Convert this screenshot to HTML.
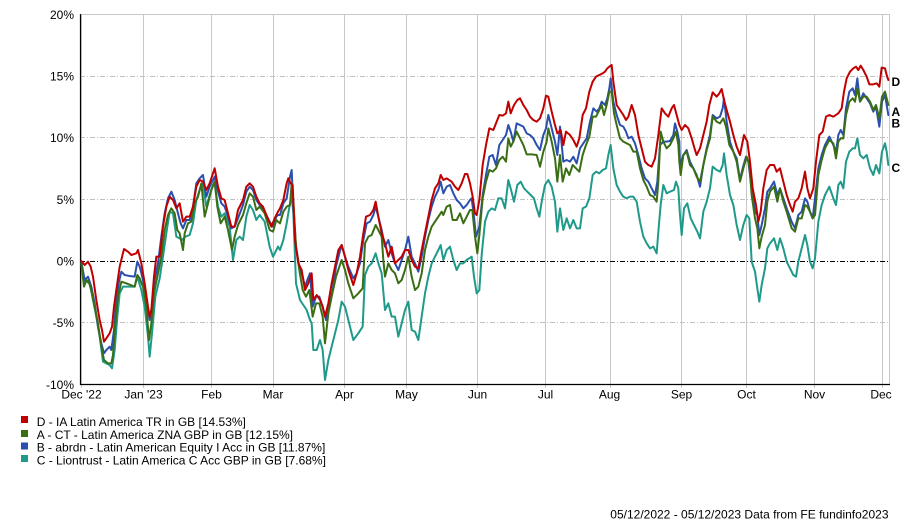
<!DOCTYPE html>
<html><head><meta charset="utf-8"><style>
html,body{margin:0;padding:0;background:#fff;}
svg{display:block;font-family:"Liberation Sans",Arial,sans-serif;}
</style></head><body>
<svg width="900" height="521" viewBox="0 0 900 521" xmlns="http://www.w3.org/2000/svg">
<rect x="0" y="0" width="900" height="521" fill="#fff"/>
<!-- vertical grid -->
<g stroke="#c8c8c8" stroke-width="1">
<line x1="81.5" y1="14" x2="81.5" y2="388"/>
<line x1="143.5" y1="14" x2="143.5" y2="388"/>
<line x1="211.5" y1="14" x2="211.5" y2="388"/>
<line x1="273.5" y1="14" x2="273.5" y2="388"/>
<line x1="344.5" y1="14" x2="344.5" y2="388"/>
<line x1="406.5" y1="14" x2="406.5" y2="388"/>
<line x1="477.5" y1="14" x2="477.5" y2="388"/>
<line x1="545.5" y1="14" x2="545.5" y2="388"/>
<line x1="610.5" y1="14" x2="610.5" y2="388"/>
<line x1="681.5" y1="14" x2="681.5" y2="388"/>
<line x1="746.5" y1="14" x2="746.5" y2="388"/>
<line x1="814.5" y1="14" x2="814.5" y2="388"/>
<line x1="882.5" y1="14" x2="882.5" y2="388"/>
<line x1="889.5" y1="14" x2="889.5" y2="384"/>
<line x1="80" y1="14.5" x2="890" y2="14.5"/>
</g>
<g stroke="#c0c0c0" stroke-width="1" stroke-dasharray="5,2,1,2">
<line x1="80" y1="76.5" x2="889" y2="76.5"/>
<line x1="80" y1="137.5" x2="889" y2="137.5"/>
<line x1="80" y1="199.5" x2="889" y2="199.5"/>
<line x1="80" y1="322.5" x2="889" y2="322.5"/>
</g>
<line x1="80" y1="261.5" x2="889" y2="261.5" stroke="#000" stroke-width="1" stroke-dasharray="5,2,1,2"/>
<!-- axes -->
<line x1="80.5" y1="14" x2="80.5" y2="385" stroke="#000" stroke-width="1.2"/>
<line x1="80" y1="384.5" x2="890" y2="384.5" stroke="#000" stroke-width="1.2"/>

<!-- y labels -->
<g font-size="12" text-anchor="end" fill="#000">
<text x="74" y="19">20%</text>
<text x="74" y="80.7">15%</text>
<text x="74" y="142">10%</text>
<text x="74" y="204">5%</text>
<text x="74" y="265.7">0%</text>
<text x="74" y="327">-5%</text>
<text x="74" y="389">-10%</text>
</g>
<!-- x labels -->
<g font-size="12" text-anchor="middle" fill="#000">
<text x="81.5" y="398.5">Dec '22</text>
<text x="143.5" y="398.5">Jan '23</text>
<text x="211.5" y="398.5">Feb</text>
<text x="273" y="398.5">Mar</text>
<text x="344.5" y="398.5">Apr</text>
<text x="406.5" y="398.5">May</text>
<text x="477.5" y="398.5">Jun</text>
<text x="545.5" y="398.5">Jul</text>
<text x="609.5" y="398.5">Aug</text>
<text x="681.5" y="398.5">Sep</text>
<text x="746.5" y="398.5">Oct</text>
<text x="814.5" y="398.5">Nov</text>
<text x="881" y="398.5">Dec</text>
</g>

<g fill="none" stroke-width="2" stroke-linejoin="round" stroke-linecap="round">
<!-- TEAL C -->
<g stroke="#1f9a8a">
<polyline vector-effect="non-scaling-stroke" transform="translate(78,150) scale(0.333333)" points="10,340 18,400 25,395 35,400 45,450 55,500 65,560 75,635 85,640 95,645 102,655 110,600 118,500 125,430 135,410 150,410 170,410 178,380 190,420 200,470 210,560 215,620 222,550 232,440 245,385 255,320 265,250 275,185 285,190 295,260 305,265 312,270 322,260 335,255 345,220 355,150 365,120 375,100 385,170 395,135 405,105 410,100 420,170 430,200 440,190 455,230 465,330 475,270 485,260 495,270 505,200 515,165 525,180 535,210 545,195 560,215 575,290 585,320 595,300 600,290"/>
<polyline vector-effect="non-scaling-stroke" transform="translate(270,150) scale(0.333333)" points="24,290 30,300 40,270 50,220 60,160 65,140 70,190 78,400 90,450 100,465 110,480 120,510 125,520 130,600 140,600 150,570 158,600 165,690 175,630 185,590 195,550 205,510 215,455 225,470 235,510 250,570 265,550 278,530 285,375 295,350 305,340 317,310 325,340 335,370 345,480 355,460 365,500 375,500 385,560 395,520 405,480 415,455 425,540 435,545 445,570 455,500 465,430 475,380 485,340 495,320 505,300 512,285 520,330 530,300 540,290 550,330 560,360 570,340 580,340 590,330 605,320 612,380 620,430 628,420"/>
<polyline vector-effect="non-scaling-stroke" transform="translate(470,55) scale(0.333333)" points="28,705 35,600 45,500 55,470 65,460 75,465 85,430 95,430 105,460 115,375 122,400 132,440 142,390 152,380 162,400 172,410 182,420 192,430 200,460 208,485 215,440 225,390 235,375 245,395 255,440 262,530 270,460 280,525 290,490 300,520 310,495 320,520 330,520 338,460 348,455 358,430 368,360 378,350 388,355 398,345 408,340 415,300 422,270 430,340 440,390 450,410 460,425 470,430 480,425 490,425 500,440 510,500 520,545 530,565 540,580 550,575 560,595 565,530 572,450 580,390 590,415 600,410 612,405 618,380 625,400 628,450"/>
<polyline vector-effect="non-scaling-stroke" transform="translate(670,55) scale(0.333333)" points="28,450 30,480 35,540 42,460 52,445 62,490 72,510 82,530 90,550 100,470 110,440 120,400 128,335 140,345 150,350 158,330 162,295 170,360 180,420 190,450 200,510 210,555 220,510 230,480 238,490 245,620 255,650 262,700 268,740 275,690 285,640 292,580 300,565 312,550 322,585 330,550 340,580 350,620 360,640 370,660 378,665 385,620 395,580 405,540 412,570 420,620 428,640 435,610 445,500 455,450 465,420 478,395 490,430 498,450 505,390 512,380 520,400 528,320 538,290 548,280 555,280 562,250 570,300 580,310 590,300 600,340 610,360 618,330 628,355 636,290 645,265 650,290 655,330"/>
</g>
<!-- BLUE B -->
<g stroke="#2a4faf">
<polyline vector-effect="non-scaling-stroke" transform="translate(78,150) scale(0.333333)" points="10,335 20,390 30,380 40,410 50,460 60,530 70,580 78,610 85,600 95,590 100,600 108,540 115,450 122,400 130,365 140,375 155,378 170,380 178,335 185,350 195,390 205,450 215,510 222,470 230,390 240,340 250,260 260,190 270,145 280,125 290,150 300,190 308,220 315,235 325,210 335,210 345,170 355,100 365,85 375,75 385,140 395,110 405,90 410,80 420,125 430,160 440,170 450,200 460,235 470,230 480,205 495,165 505,125 515,110 525,120 535,150 545,165 560,185 575,215 585,230 595,200 600,195"/>
<polyline vector-effect="non-scaling-stroke" transform="translate(270,150) scale(0.333333)" points="24,195 30,195 40,160 50,145 60,80 65,60 70,170 78,290 88,350 98,380 105,410 112,390 120,370 128,470 138,440 148,440 158,470 168,510 178,470 188,420 198,350 208,310 215,285 225,320 235,350 250,385 260,370 270,340 280,270 290,220 300,215 310,195 317,170 325,200 335,240 345,290 355,270 365,310 375,340 385,360 395,330 405,300 415,260 425,320 435,340 445,365 455,320 465,260 475,210 485,170 495,140 505,120 512,95 520,130 530,110 540,105 550,130 560,150 570,160 580,175 590,165 600,150 605,145 612,200 618,260 628,230"/>
<polyline vector-effect="non-scaling-stroke" transform="translate(470,55) scale(0.333333)" points="28,515 38,420 48,360 58,305 68,300 78,330 88,270 98,255 108,240 115,210 122,230 130,260 140,205 150,210 160,215 170,235 180,240 190,250 200,270 210,285 220,240 228,220 235,180 245,220 255,260 262,300 270,215 280,320 290,315 300,320 310,305 320,325 330,280 340,265 350,250 360,200 370,160 380,170 388,160 395,140 405,150 412,130 418,100 422,70 430,140 440,180 450,210 460,215 468,230 475,250 485,245 495,265 505,300 515,340 525,370 535,380 545,400 555,420 562,380 570,270 580,260 590,260 600,258 610,240 615,205 622,230 628,260"/>
<polyline vector-effect="non-scaling-stroke" transform="translate(670,55) scale(0.333333)" points="28,260 30,330 40,300 50,285 60,320 70,340 80,360 90,395 100,330 110,280 120,240 128,180 140,190 150,185 158,160 162,130 170,200 180,260 190,290 200,310 210,375 218,340 228,305 235,320 245,400 255,470 262,480 268,540 275,510 285,460 292,410 300,400 312,380 322,420 330,400 340,430 350,460 365,500 375,520 385,480 395,470 405,430 412,440 420,470 428,490 435,430 445,340 455,300 465,270 478,245 490,270 498,290 505,240 512,225 520,240 528,160 538,110 548,100 555,120 562,70 570,140 580,115 590,130 600,145 610,170 618,155 628,215 636,140 645,120 650,150 655,180"/>
</g>
<!-- GREEN A -->
<g stroke="#3a6e14">
<polyline vector-effect="non-scaling-stroke" transform="translate(78,150) scale(0.333333)" points="10,340 18,410 25,390 32,395 40,420 50,470 60,520 70,590 78,630 90,640 100,640 105,615 112,520 120,440 130,395 145,400 170,410 178,375 185,385 195,410 205,470 213,570 220,520 228,430 238,380 250,320 260,240 270,195 280,175 290,190 298,240 305,250 315,300 320,250 330,220 340,215 350,160 360,140 370,100 380,200 390,160 400,120 410,95 418,170 428,220 440,200 450,240 462,300 470,260 480,225 495,195 505,160 515,130 525,140 535,180 545,170 560,190 575,240 585,245 595,210 600,215"/>
<polyline vector-effect="non-scaling-stroke" transform="translate(270,150) scale(0.333333)" points="24,215 30,220 40,185 50,170 60,165 65,100 70,150 78,290 88,360 98,420 108,440 118,420 128,500 138,460 148,460 158,500 165,580 175,490 185,440 198,380 208,350 215,330 225,360 235,400 250,445 265,430 278,415 285,280 295,260 305,255 317,225 325,240 335,260 340,330 345,380 355,340 365,360 375,370 385,400 395,390 405,360 415,320 425,380 435,420 445,410 455,370 465,300 475,260 485,230 495,215 505,200 515,185 520,195 530,170 540,165 548,210 560,210 570,190 580,220 590,200 600,180 607,180 615,260 622,310 628,255"/>
<polyline vector-effect="non-scaling-stroke" transform="translate(470,55) scale(0.333333)" points="28,540 38,430 48,380 58,345 68,350 78,340 88,315 98,305 108,320 115,250 122,275 130,260 140,230 150,250 160,270 170,298 185,298 200,300 210,335 220,290 230,260 235,220 245,260 255,310 262,380 270,300 278,380 288,340 298,360 308,330 318,340 328,350 338,300 348,270 358,245 368,185 378,185 388,165 395,150 402,180 410,150 418,110 425,110 432,175 440,210 450,250 460,260 470,265 480,270 490,290 500,290 510,340 520,375 530,395 540,420 550,425 560,440 565,380 572,230 580,260 590,280 600,270 610,250 618,230 625,270 628,320"/>
<polyline vector-effect="non-scaling-stroke" transform="translate(670,55) scale(0.333333)" points="28,320 32,360 40,300 50,290 60,330 70,340 80,365 90,380 100,330 110,285 120,250 128,185 140,200 150,205 160,190 168,215 178,270 190,290 200,320 210,380 220,340 230,305 238,330 245,420 255,490 262,520 268,580 275,545 285,510 292,440 300,410 312,395 322,440 330,400 340,440 350,470 365,520 375,530 385,490 395,490 405,450 412,455 420,470 428,490 435,480 445,360 455,315 465,280 478,255 490,265 498,310 505,260 512,250 520,250 528,180 538,140 548,130 555,140 562,100 570,140 580,125 590,125 600,140 610,165 618,150 628,190 636,125 645,110 650,130 655,150"/>
</g>
<!-- RED D -->
<g stroke="#c00000">
<polyline vector-effect="non-scaling-stroke" transform="translate(78,150) scale(0.333333)" points="10,333 20,345 30,335 38,350 45,380 55,450 65,510 72,540 78,575 85,565 95,550 102,530 108,470 115,420 125,350 138,297 150,305 160,315 175,310 180,300 190,340 200,400 210,470 215,500 220,480 228,380 235,320 245,320 255,230 265,170 275,140 285,150 295,175 305,160 315,215 325,200 335,200 345,170 355,110 365,90 375,95 385,120 395,100 405,70 410,55 420,110 430,145 440,150 450,190 460,230 470,230 480,180 495,150 505,110 515,100 525,110 535,140 545,160 555,170 565,195 580,230 590,205 600,185"/>
<polyline vector-effect="non-scaling-stroke" transform="translate(270,150) scale(0.333333)" points="24,185 30,175 40,150 50,100 55,85 62,100 68,105 75,270 85,340 95,360 105,420 115,400 125,370 130,450 140,435 150,450 158,470 165,500 175,460 185,400 195,350 205,300 215,285 225,320 235,360 250,405 260,370 270,320 280,250 288,200 300,195 310,180 317,155 325,200 335,250 345,280 355,320 365,290 375,340 385,330 395,320 405,300 415,300 425,330 435,350 445,355 455,300 465,250 475,200 485,150 495,115 505,100 512,75 520,90 530,85 545,95 555,110 565,120 575,100 585,72 592,72 600,100 608,140 615,190 620,195 628,150"/>
<polyline vector-effect="non-scaling-stroke" transform="translate(470,55) scale(0.333333)" points="28,435 38,330 48,270 58,220 70,225 80,200 88,180 98,182 108,175 115,140 122,175 132,150 142,135 150,130 160,150 170,165 180,185 190,195 200,200 210,190 220,160 228,122 235,125 245,170 255,210 262,235 272,225 280,270 288,230 300,240 310,255 320,275 328,250 338,180 348,160 358,110 368,80 378,65 388,60 398,55 405,50 412,40 418,35 425,30 430,80 440,150 450,165 460,180 468,195 475,185 485,150 495,180 505,240 515,280 525,320 535,330 545,335 555,310 565,240 575,160 585,175 595,185 605,160 612,150 620,180 628,210"/>
<polyline vector-effect="non-scaling-stroke" transform="translate(670,55) scale(0.333333)" points="28,210 35,225 45,210 55,220 65,250 75,285 80,300 90,280 100,240 110,200 118,150 128,112 140,125 148,115 155,102 162,135 170,165 180,200 190,240 200,275 210,300 215,275 222,240 232,260 240,320 248,400 258,450 265,500 272,470 280,400 290,345 300,330 312,330 320,350 330,340 340,380 350,420 360,450 368,470 375,440 385,430 395,400 405,350 412,400 420,430 430,400 438,320 448,240 458,230 468,185 478,180 490,185 505,175 515,160 522,110 530,70 540,50 550,40 558,35 565,45 572,32 580,45 590,65 598,88 610,88 620,85 628,95 635,38 645,40 650,60 655,75"/>
</g>
</g>

<!-- end labels -->
<g font-size="12" font-weight="bold" fill="#000">
<text x="891.5" y="86">D</text>
<text x="891.5" y="116">A</text>
<text x="891.5" y="127.3">B</text>
<text x="891.5" y="172">C</text>
</g>

<!-- legend -->
<rect x="21" y="416" width="7" height="7" fill="#c00000"/>
<rect x="21" y="430" width="7" height="7" fill="#3a6e14"/>
<rect x="21" y="442.5" width="7" height="7" fill="#2a4faf"/>
<rect x="21" y="455" width="7" height="7" fill="#1f9a8a"/>
<g font-size="12" fill="#000">
<text x="36.7" y="426">D - IA Latin America TR in GB [14.53%]</text>
<text x="36.7" y="439">A - CT - Latin America ZNA GBP in GB [12.15%]</text>
<text x="36.7" y="451.7">B - abrdn - Latin American Equity I Acc in GB [11.87%]</text>
<text x="36.7" y="464.4">C - Liontrust - Latin America C Acc GBP in GB [7.68%]</text>
</g>
<text x="888.5" y="518.5" font-size="12" text-anchor="end" fill="#000">05/12/2022 - 05/12/2023 Data from FE fundinfo2023</text>
</svg>
</body></html>
